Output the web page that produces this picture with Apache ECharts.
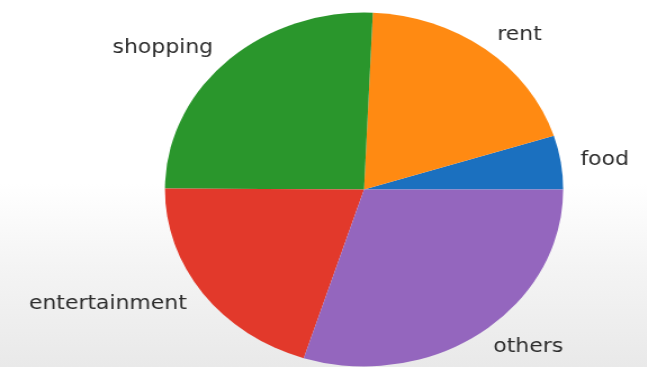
<!DOCTYPE html>
<html>
<head>
<meta charset="utf-8">
<script src="https://cdn.jsdelivr.net/npm/echarts@6/dist/echarts.min.js"></script>
<style>
    html, body { margin: 0; padding: 0; overflow: hidden; }
    body {
        width: 647px; height: 367px;
        background: linear-gradient(to bottom, #ffffff 0%, #ffffff 50%, #f3f3f3 75%, #e9e9e9 100%);
    }
    /* source frame is stretched sideways, so draw narrower and scale x */
    #main {
        width: 575px; height: 367px;
        transform: scaleX(1.125);
        transform-origin: 0 0;
        filter: blur(0.6px);
    }
</style>
</head>
<body>
<div id="main"></div>
<script>
const labels = ['food', 'rent', 'shopping', 'entertainment', 'others']
const values = [4.9, 19.4, 25.6, 20.2, 29.9]
const colors = ['#1b70bf', '#ff8a12', '#2a962c', '#e2392b', '#9466be']

let myChart = echarts.init(document.getElementById('main'))
let options = {
    animation: false,
    color: colors,
    series: [{
        type: 'pie',
        center: [323.6, 189.5],
        radius: [0, 177],
        startAngle: 0,
        clockwise: false,
        avoidLabelOverlap: false,
        data: labels.map((name, i) => ({ name: name, value: values[i] })),
        label: {
            show: true,
            position: 'outside',
            color: '#2c2c2c',
            fontFamily: 'DejaVu Sans',
            fontSize: 19.5,
            padding: [6, 0, 0, 0],
            distanceToLabelLine: 0
        },
        labelLine: {
            show: false,
            length: 17.7,
            length2: 0
        },
        itemStyle: {
            borderWidth: 0
        },
        emphasis: { disabled: true }
    }]
}
myChart.setOption(options)
</script>
</body>
</html>
